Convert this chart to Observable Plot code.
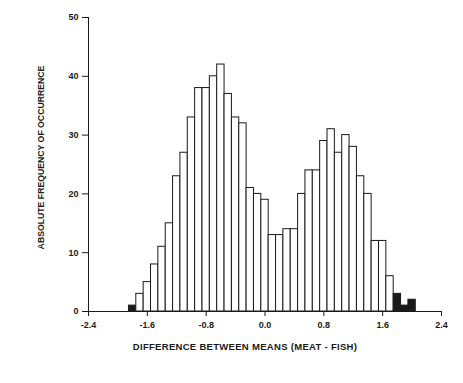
<!DOCTYPE html>
<html><head><meta charset="utf-8">
<script src="https://cdn.jsdelivr.net/npm/d3@7"></script>
<script src="https://cdn.jsdelivr.net/npm/@observablehq/plot@0.6"></script>
<style>
html,body{margin:0;padding:0;background:#fff;}
svg{display:block;}
</style></head>
<body><div id="chart"></div>
<script>
const binCenters = [-1.8,-1.7,-1.6,-1.5,-1.4,-1.3,-1.2,-1.1,-1.0,-0.9,-0.8,-0.7,-0.6,-0.5,-0.4,-0.3,-0.2,-0.1,0.0,0.1,0.2,0.3,0.4,0.5,0.6,0.7,0.8,0.9,1.0,1.1,1.2,1.3,1.4,1.5,1.6,1.7,1.8,1.9,2.0];
const counts = [1,3,5,8,11,15,23,27,33,38,38,40,42,37,33,32,21,20,19,13,13,14,14,20,24,24,29,31,27,30,28,23,20,12,12,6,3,1,2];
const binWidth = 0.1;
const tailLimit = 1.75; // bins beyond |1.75| are shaded
const xTicks = [-2.4,-1.6,-0.8,0.0,0.8,1.6,2.4];
const yTicks = [0,10,20,30,40,50];
const xLabel = "DIFFERENCE BETWEEN MEANS (MEAT - FISH)";
const yLabel = "ABSOLUTE FREQUENCY OF OCCURRENCE";

const data = binCenters.map((c,i)=>({x1:c-binWidth/2, x2:c+binWidth/2, count:counts[i], tail:Math.abs(c)>tailLimit}));

const ink = "#1a1a1a";
const chart = Plot.plot({
  width: 463, height: 383,
  marginLeft: 88, marginRight: 22, marginTop: 17, marginBottom: 72,
  style: {fontFamily: "'Liberation Sans', Arial, sans-serif", fontSize: "9px", color: ink, background: "#fff"},
  x: {domain: [-2.4, 2.4]},
  y: {domain: [0, 50]},
  marks: [
    Plot.rectY(data, {x1:"x1", x2:"x2", y:"count", fill: d => d.tail ? ink : "#fff", stroke: ink, strokeWidth: 1, inset: 0}),
    Plot.ruleX([-2.4], {y1: 0, y2: 50, stroke: ink}),
    Plot.ruleY([0], {x1: -2.4, x2: 2.4, stroke: ink}),
    Plot.axisX({ticks: xTicks, tickFormat: d => d.toFixed(1), tickSize: 5, tickPadding: 5, fontSize: 9, fontWeight: "bold", label: null}),
    Plot.axisY({ticks: yTicks, tickSize: 6, tickPadding: 4, fontSize: 9, fontWeight: "bold", label: null}),
    Plot.text([xLabel], {frameAnchor: "bottom", dy: 38, dx: -20, fontSize: 9.5, fontWeight: "bold", fill: ink}),
    Plot.text([yLabel], {frameAnchor: "left", textAnchor: "middle", rotate: -90, dx: -47, dy: -7, fontSize: 8.7, fontWeight: "bold", fill: ink})
  ]
});
d3.select(chart).selectAll("text").filter(function(){ return this.textContent === xLabel; }).attr("letter-spacing", "0.3");
document.getElementById("chart").appendChild(chart);
</script>
</body></html>
